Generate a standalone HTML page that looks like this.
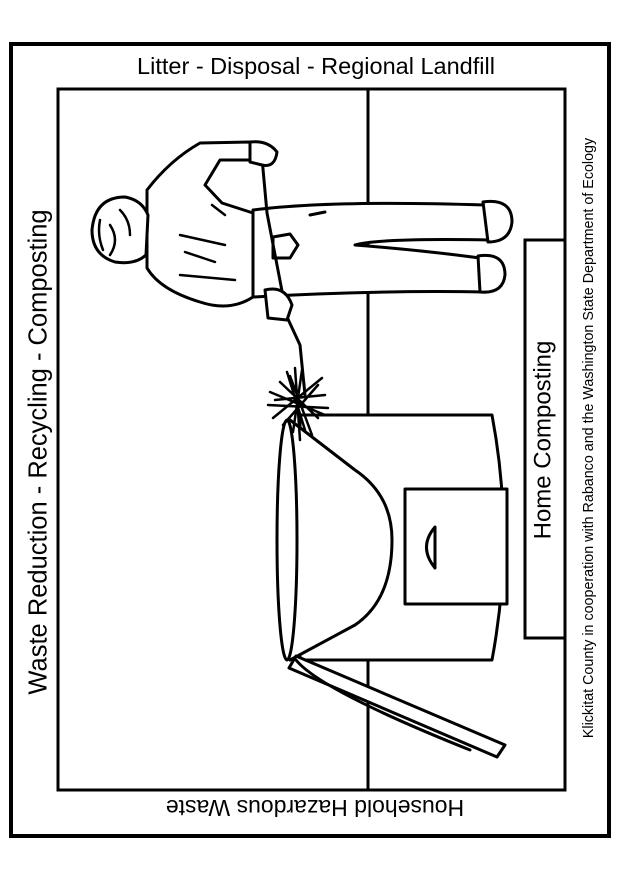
<!DOCTYPE html>
<html><head><meta charset="utf-8"><style>
html,body{margin:0;padding:0;background:#fff;}
body{width:622px;height:877px;position:relative;overflow:hidden;font-family:"Liberation Sans",sans-serif;}
</style></head><body>
<svg width="622" height="877" viewBox="0 0 622 877" xmlns="http://www.w3.org/2000/svg" style="position:absolute;left:0;top:0">
<rect x="11" y="44" width="598" height="792" fill="none" stroke="#000" stroke-width="4"/>
<rect x="58" y="89" width="507" height="701" fill="none" stroke="#000" stroke-width="3"/>
<line x1="368" y1="89" x2="368" y2="790" stroke="#000" stroke-width="3"/>
<rect x="525" y="240" width="40" height="398" fill="#fff" stroke="#000" stroke-width="3"/>
<text x="316" y="74" font-size="23.5" text-anchor="middle" font-family="Liberation Sans">Litter - Disposal - Regional Landfill</text>
<text transform="translate(315,806) rotate(180)" font-size="23" text-anchor="middle" dominant-baseline="middle" font-family="Liberation Sans">Household Hazardous Waste</text>
<text transform="translate(40,452) rotate(-90)" font-size="25.5" text-anchor="middle" dominant-baseline="middle" font-family="Liberation Sans">Waste Reduction - Recycling - Composting</text>
<text transform="translate(544,440) rotate(-90)" font-size="24" text-anchor="middle" dominant-baseline="middle" font-family="Liberation Sans">Home Composting</text>
<text transform="translate(589,438) rotate(-90)" font-size="14.3" text-anchor="middle" dominant-baseline="middle" font-family="Liberation Sans">Klickitat County in cooperation with Rabanco and the Washington State Department of Ecology</text>
<g fill="#fff" stroke="#000" stroke-width="3" stroke-linejoin="round" stroke-linecap="round">
<!-- composter -->
<path d="M300,415 L492,415 Q515,537 492,660 L300,660 Z"/>
<rect x="405" y="489" width="102" height="115"/>
<path d="M435,527 Q418,547 435,568 Z"/>
<path d="M290,420 L355,470 Q392,495 392,540 Q392,600 355,625 L290,660"/>
<ellipse cx="287" cy="540" rx="10" ry="120"/>
<path d="M289,668 L296,656 L505,745 L497,757 Z"/>
<path d="M296,660 Q320,690 470,750" fill="none"/>
<!-- legs -->
<path d="M253,210 Q330,200 485,205 L490,240 Q380,238 355,245 Q420,250 480,258 L485,292 Q380,290 253,297 Z"/>
<path d="M483,202 Q512,198 512,222 Q510,242 488,242 Z"/>
<path d="M478,256 Q505,252 505,275 Q503,294 480,292 Z"/>
<path d="M273,237 L290,234 L298,245 L290,258 L273,258 Z"/>
<line x1="310" y1="215" x2="325" y2="212"/>
<!-- rake handle -->
<path d="M262,158 L267,213 L287,317 L300,345 L305,395" fill="none"/>
<!-- torso -->
<path d="M147,190 Q170,160 200,143 L250,142 L265,160 L220,160 L205,185 L222,203 L253,213 L253,297 Q230,312 200,302 Q160,290 147,268 Z"/>
<path d="M250,142 Q268,140 277,152 Q275,168 262,165 L250,162 Z"/>
<path d="M265,290 Q285,285 292,305 L287,320 L268,318 Z"/>
<!-- head -->
<path d="M92,230 Q95,197 125,197 Q142,200 148,215 L146,255 Q135,265 115,262 Q92,255 92,230 Z"/>
</g>
<g stroke="#000" stroke-width="2.5" fill="none" stroke-linecap="round">
<path d="M120,210 Q130,220 130,235 M110,225 Q120,240 110,255 M100,220 Q97,235 103,250"/>
<path d="M180,235 L225,245 M185,252 L215,262 M180,275 L235,280 M212,205 L225,215"/>
<path d="M275,400 L325,395 M280,382 L318,418 M287,372 L305,430 M302,370 L293,432 M273,418 L322,378 M268,405 L328,408 M290,376 L312,435 M270,392 L325,415 M283,425 L318,385 M295,368 L300,440"/>
</g>
</svg>
</body></html>
